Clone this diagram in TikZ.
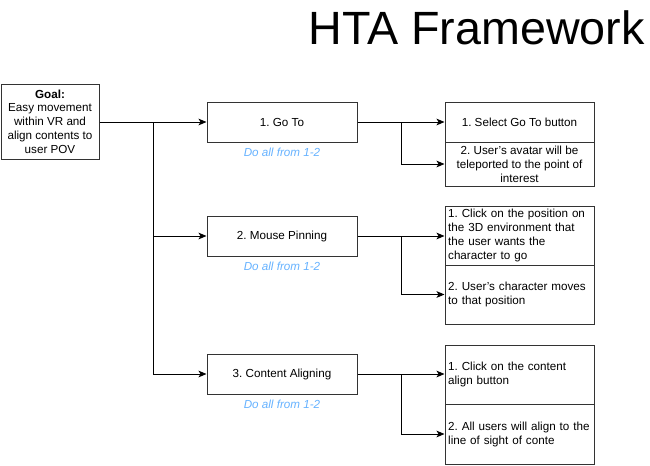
\documentclass[tikz,border=0pt]{standalone}
\usepackage{fontspec}
\setmainfont{Liberation Sans}
\usetikzlibrary{arrows.meta,calc,positioning}
\definecolor{linkblue}{rgb}{0.40, 0.70, 1.00}
\definecolor{boxgray}{rgb}{0.20, 0.20, 0.20}
\frenchspacing
\tikzset{
  goalbox/.style={
    draw=boxgray,
    line width=.75pt,
    fill=white,
    align=center,
    minimum width=73.5pt,
    minimum height=56.25pt,
    inner sep=0pt,
    font=\fontsize{8.75}{10.3}\selectfont
  },
  tarea/.style={
    draw=boxgray,
    line width=.75pt,
    fill=white,
    align=center,
    minimum width=112.5pt,
    minimum height=30pt,
    inner sep=0pt,
    font=\fontsize{8.75}{10.5}\selectfont
  },
  sub/.style={
    draw=boxgray,
    line width=.75pt,
    fill=white,
    minimum width=111.75pt,
    inner xsep=2pt,
    inner ysep=1pt,
    font=\fontsize{8.75}{10.5}\selectfont
  },
  nota/.style={
    text=linkblue,
    font=\fontsize{8.75}{10.5}\selectfont\itshape,
    inner sep=0pt
  },
  arrow/.style={
    -{Stealth[length=6pt,width=5pt,inset=1.5pt]},
    line width=.75pt,
    black
  },
  linea/.style={
    line width=.75pt,
    black
  }
}

\begin{document}
\begin{tikzpicture}[x=.75pt,y=-.75pt]
\useasboundingbox (0,0) rectangle (650,465);
% titulo
\node[anchor=base east, inner sep=0pt, font=\fontsize{35}{40}\selectfont] (titulo) at (645,44) {HTA Framework};
% objetivo
\node[goalbox] (goal) at (50,121.5) {\textbf{Goal:}\\Easy movement\\within VR and\\align contents to\\user POV};
% tareas
\node[tarea] (t1) at (282,122) {1. Go To};
\node[tarea] (t2) at (282,236) {2. Mouse Pinning};
\node[tarea] (t3) at (282,374) {3. Content Aligning};
\node[nota] (n1) at (282,152) {Do all from 1-2};
\node[nota] (n2) at (282,266) {Do all from 1-2};
\node[nota] (n3) at (282,404) {Do all from 1-2};
% subtareas
\node[sub, align=center, minimum height=30pt] (s11) at (519.5,122) {1. Select Go To button};
\node[sub, align=center, minimum height=33pt] (s12) at (519.5,164) {2. User's avatar will be\\teleported to the point of\\interest};
\node[sub, align=left, text width=107pt, minimum height=44.25pt] (s21) at (519.5,235.5) {1. Click on the position on\\the 3D environment that\\the user wants the\\character to go};
\node[sub, align=left, text width=107pt, minimum height=44.25pt] (s22) at (519.5,294.5) {2. User's character moves\\to that position};
\node[sub, align=left, text width=107pt, minimum height=44.25pt] (s31) at (519.5,374.5) {1. Click on the content\\align button};
\node[sub, align=left, text width=107pt, minimum height=45pt] (s32) at (519.5,434) {2. All users will align to the\\line of sight of conte};
% conectores
\coordinate (ja) at (153,122);
\coordinate (j1) at (401,122);
\coordinate (j2) at (401,236);
\coordinate (j3) at (401,374);
\draw[arrow] (goal.east |- t1.west) -- (t1.west);
\draw[linea] (ja) -- (153,374);
\draw[arrow] (ja) |- (t2.west);
\draw[arrow] (ja) |- (t3.west);
\draw[arrow] (t1.east) -- (s11.west);
\draw[arrow] (j1) |- (s12.west);
\draw[arrow] (t2.east) -- (s21.west |- j2);
\draw[arrow] (j2) |- (s22.west);
\draw[arrow] (t3.east) -- (s31.west |- j3);
\draw[arrow] (j3) |- (s32.west);
\end{tikzpicture}
\end{document}
